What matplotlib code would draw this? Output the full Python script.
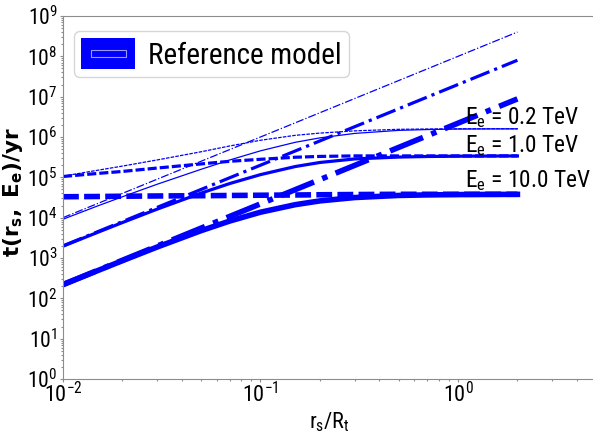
import matplotlib
matplotlib.use('Agg')
import matplotlib.pyplot as plt
from matplotlib.legend_handler import HandlerBase
from matplotlib.patches import Rectangle, Patch
from matplotlib.ticker import LogLocator, NullFormatter

# ---------------- data ----------------
x_grid = [0.01, 0.015, 0.02, 0.03, 0.05, 0.07, 0.1, 0.15, 0.2, 0.3, 0.5, 0.7, 1.0, 1.5, 2.0]
x_diff = [0.01, 2.0]

energies = ["0.2", "1.0", "10.0"]

# diffusion time (dash-dot), power law, values at x_diff
t_diff_02 = [1.0e4, 4.0e8]
t_diff_1 = [2.0e3, 8.0e7]
t_diff_10 = [2.2e2, 8.8e6]

# energy-loss time (dashed), values at x_grid
t_loss_02 = [1.07e5, 1.5e5, 1.9e5, 2.7e5, 4.3e5, 6.0e5, 8.3e5, 1.1e6, 1.25e6, 1.42e6,
             1.55e6, 1.58e6, 1.6e6, 1.6e6, 1.6e6]
t_loss_1 = [1.05e5, 1.25e5, 1.4e5, 1.7e5, 2.15e5, 2.5e5, 2.8e5, 3.15e5, 3.3e5, 3.4e5,
            3.4e5, 3.4e5, 3.4e5, 3.4e5, 3.4e5]
t_loss_10 = [3.3e4, 3.35e4, 3.4e4, 3.45e4, 3.5e4, 3.55e4, 3.6e4, 3.65e4, 3.7e4, 3.75e4,
             3.8e4, 3.8e4, 3.8e4, 3.8e4, 3.8e4]

# combined time (solid), values at x_grid
t_tot_02 = [9.15e3, 1.96e4, 3.30e4, 6.75e4, 1.58e5, 2.70e5, 4.54e5, 7.39e5, 9.52e5, 1.227e6,
            1.46e6, 1.53e6, 1.575e6, 1.589e6, 1.594e6]
t_tot_1 = [1.963e3, 4.34e3, 7.57e3, 1.63e4, 4.06e4, 7.04e4, 1.167e5, 1.853e5, 2.336e5, 2.86e5,
           3.18e5, 3.286e5, 3.343e5, 3.375e5, 3.386e5]
t_tot_10 = [218.5, 487.8, 857.8, 1872, 4753, 8269, 1.366e4, 2.10e4, 2.605e4, 3.153e4,
            3.554e4, 3.670e4, 3.735e4, 3.771e4, 3.783e4]

legend_label = "Reference model"

# ---------------- style ----------------
plt.rcParams['font.family'] = ['Roboto Condensed', 'DejaVu Sans']
plt.rcParams['mathtext.fontset'] = 'dejavusans'

BLUE = '#0000ff'
widths = [0.9, 2.3, 4.0]
dashdot = '-.'
dashed = (0, (2.85, 0.95))

fig = plt.figure(figsize=(5.93, 4.34), dpi=100)
ax = fig.add_axes([63 / 593, 55 / 434, 533 / 593, 363 / 434])

series = [
    (t_diff_02, t_loss_02, t_tot_02),
    (t_diff_1, t_loss_1, t_tot_1),
    (t_diff_10, t_loss_10, t_tot_10),
]
for (td, tl, tt), lw in zip(series, widths):
    ax.plot(x_diff, td, color=BLUE, lw=lw, linestyle=dashdot)
    ax.plot(x_grid, tl, color=BLUE, lw=lw, linestyle=dashed)
    ax.plot(x_grid, tt, color=BLUE, lw=lw, linestyle='-')

ax.set_xscale('log')
ax.set_yscale('log')
ax.set_xlim(0.01, 5)
ax.set_ylim(1, 1e9)
ax.yaxis.set_major_locator(LogLocator(base=10, numticks=12))
ax.yaxis.set_minor_locator(LogLocator(base=10, subs=range(2, 10), numticks=12))
ax.yaxis.set_minor_formatter(NullFormatter())

for s in ax.spines.values():
    s.set_color('#8c8c8c')
    s.set_linewidth(0.8)
ax.spines['right'].set_visible(False)

ax.tick_params(which='both', color='#8c8c8c', width=0.8)
ax.tick_params(axis='y', which='major', length=2.5, pad=1.5, labelsize=15.5)
ax.tick_params(axis='y', which='minor', length=1.5)
ax.tick_params(axis='x', which='major', length=2, pad=0.5, labelsize=16)
ax.tick_params(axis='x', which='minor', length=1.5)

ax.set_xlabel(r'$\mathdefault{r_s/R_t}$', fontsize=16, labelpad=2)
ax.set_ylabel(r'$\mathbf{t(r_s,\ E_e)/yr}$', fontsize=15.5)
ax.yaxis.set_label_coords(-0.0713, 0.515)

label_pos = [(1.085, 2.1e6), (1.085, 4.3e5), (1.085, 5.8e4)]
for e, (xp, yp) in zip(energies, label_pos):
    ax.text(xp, yp, r'$\mathdefault{E_e}$ = ' + e + ' TeV', fontsize=16.8,
            va='baseline', ha='left')


class RefHandler(HandlerBase):
    def create_artists(self, legend, orig_handle, xdescent, ydescent, width, height, fontsize, trans):
        r1 = Rectangle((-xdescent, -ydescent), width, height, facecolor=BLUE,
                       edgecolor='none', transform=trans)
        r2 = Rectangle((-xdescent + 0.185 * width, -ydescent + 0.4 * height),
                       0.65 * width, 0.23 * height, facecolor='none',
                       edgecolor='#9a9aff', lw=0.8, transform=trans)
        return [r1, r2]


h = Patch(facecolor=BLUE, label=legend_label)
ax.legend(handles=[h], handler_map={Patch: RefHandler()}, loc='upper left',
          bbox_to_anchor=(0.0206, 0.9587), borderaxespad=0, fontsize=21,
          handlelength=1.85, handleheight=1.25, handletextpad=0.45, borderpad=0.25)

fig.savefig('out.png', dpi=100)
